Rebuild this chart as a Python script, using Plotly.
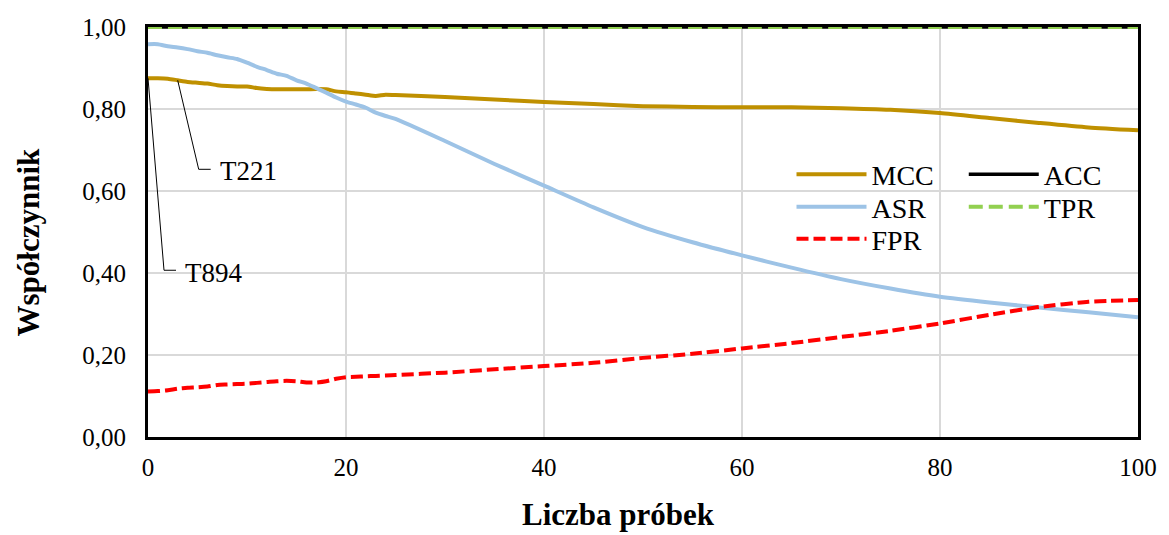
import plotly.graph_objects as go

# Number of samples
probki = [0, 1, 2, 3, 4, 5, 6, 7, 8, 9, 10, 11, 12, 13, 14, 15, 16, 17, 18, 19,
          20, 21, 22, 23, 24, 25, 30, 35, 40, 45, 50, 55, 60, 65, 70, 75, 80,
          85, 90, 95, 100]

mcc = [0.875, 0.875, 0.874, 0.870, 0.866, 0.864, 0.862, 0.858, 0.856, 0.855,
       0.855, 0.851, 0.849, 0.848, 0.848, 0.848, 0.848, 0.849, 0.848, 0.843,
       0.841, 0.838, 0.835, 0.832, 0.835, 0.834, 0.829, 0.823, 0.817, 0.812,
       0.807, 0.805, 0.804, 0.804, 0.802, 0.798, 0.790, 0.778, 0.766, 0.755,
       0.748]

asr = [0.958, 0.958, 0.953, 0.950, 0.946, 0.941, 0.937, 0.931, 0.926, 0.922,
       0.913, 0.903, 0.895, 0.886, 0.881, 0.870, 0.862, 0.851, 0.840, 0.828,
       0.818, 0.811, 0.803, 0.791, 0.783, 0.776, 0.722, 0.666, 0.613, 0.560,
       0.512, 0.475, 0.443, 0.413, 0.385, 0.362, 0.342, 0.328, 0.316, 0.304,
       0.292]

fpr = [0.111, 0.112, 0.114, 0.118, 0.120, 0.121, 0.123, 0.127, 0.128, 0.129,
       0.130, 0.132, 0.134, 0.136, 0.137, 0.136, 0.133, 0.133, 0.136, 0.142,
       0.146, 0.147, 0.148, 0.149, 0.150, 0.151, 0.157, 0.165, 0.173, 0.181,
       0.193, 0.203, 0.216, 0.229, 0.244, 0.259, 0.277, 0.298, 0.317, 0.330,
       0.334]

acc = [1.0] * len(probki)
tpr = [1.0] * len(probki)

# Labelled points on the MCC curve: (label, sample index)
etykiety = [("T221", 3), ("T894", 0)]

x_ticks = [0, 20, 40, 60, 80, 100]
y_ticks = [0.0, 0.2, 0.4, 0.6, 0.8, 1.0]
y_tick_text = ["0,00", "0,20", "0,40", "0,60", "0,80", "1,00"]

FONT = "Liberation Serif, Times New Roman, DejaVu Serif, serif"

fig = go.Figure()


def add_line(name, y, color, width, dash, legend):
    fig.add_trace(go.Scatter(
        x=probki, y=y, name=name, mode="lines",
        line=dict(color=color, width=width, dash=dash, shape="spline", smoothing=0.6),
        cliponaxis=False, legend=legend,
    ))


add_line("MCC", mcc, "#BF9000", 4, "solid", "legend")
add_line("ASR", asr, "#9DC3E6", 4, "solid", "legend2")
add_line("FPR", fpr, "#FF0000", 4, "12px,5px", "legend3")
add_line("ACC", acc, "#000000", 3.5, "solid", "legend4")
add_line("TPR", tpr, "#92D050", 4, "14px,6px", "legend5")

# Data labels with elbow leader lines
offsets = {"T221": ((21, -89), (33, -89), 40, -91),
           "T894": ((16, -192), (28, -192), 35, -195)}
for label, idx in etykiety:
    (ex, ey), (hx, hy), tx, ty = offsets[label]
    fig.add_shape(
        type="path", xref="x", yref="y",
        xsizemode="pixel", ysizemode="pixel",
        xanchor=probki[idx], yanchor=mcc[idx],
        path=f"M0,0 L{ex},{ey} L{hx},{hy}",
        line=dict(color="black", width=1),
    )
    fig.add_annotation(
        x=probki[idx], y=mcc[idx], text=label, showarrow=False,
        xanchor="left", yanchor="middle", xshift=tx, yshift=ty,
        font=dict(family=FONT, size=27, color="black"),
    )

# Axis titles
fig.add_annotation(x=0.475, y=-0.19, xref="paper", yref="paper",
                   text="<b>Liczba próbek</b>", showarrow=False,
                   xanchor="center", yanchor="middle",
                   font=dict(family=FONT, size=31, color="black"))
fig.add_annotation(x=-0.1206, y=0.476, xref="paper", yref="paper",
                   text="<b>Współczynnik</b>", showarrow=False, textangle=-90,
                   xanchor="center", yanchor="middle",
                   font=dict(family=FONT, size=31, color="black"))

# Legend: two columns (MCC/ASR/FPR and ACC/TPR)
legend_common = dict(
    font=dict(family=FONT, size=28, color="black"),
    bgcolor="rgba(0,0,0,0)", borderwidth=0,
    xanchor="left", yanchor="middle", itemwidth=70,
)
col_x = [0.650, 0.824]
row_y = [0.640, 0.561, 0.483]

fig.update_layout(
    width=1169, height=535,
    margin=dict(l=148, r=26, t=27, b=98),
    paper_bgcolor="white", plot_bgcolor="white",
    showlegend=True,
    legend=dict(x=col_x[0], y=row_y[0], **legend_common),
    legend2=dict(x=col_x[0], y=row_y[1], **legend_common),
    legend3=dict(x=col_x[0], y=row_y[2], **legend_common),
    legend4=dict(x=col_x[1], y=row_y[0], **legend_common),
    legend5=dict(x=col_x[1], y=row_y[1], **legend_common),
    xaxis=dict(
        range=[0, 100], tickvals=x_ticks, showgrid=True,
        gridcolor="#D9D9D9", gridwidth=1.5, zeroline=False,
        showline=True, linecolor="black", linewidth=3, mirror=True,
        layer="below traces",
        tickfont=dict(family=FONT, size=25, color="black"),
        ticks="", ticklabelstandoff=6,
    ),
    yaxis=dict(
        range=[0, 1.0], tickvals=y_ticks, ticktext=y_tick_text,
        showgrid=True, gridcolor="#D9D9D9", gridwidth=1.5, zeroline=False,
        showline=True, linecolor="black", linewidth=3, mirror=True,
        layer="below traces",
        tickfont=dict(family=FONT, size=25, color="black"),
        ticks="", ticklabelstandoff=14,
    ),
)

fig.write_html("out.html")
